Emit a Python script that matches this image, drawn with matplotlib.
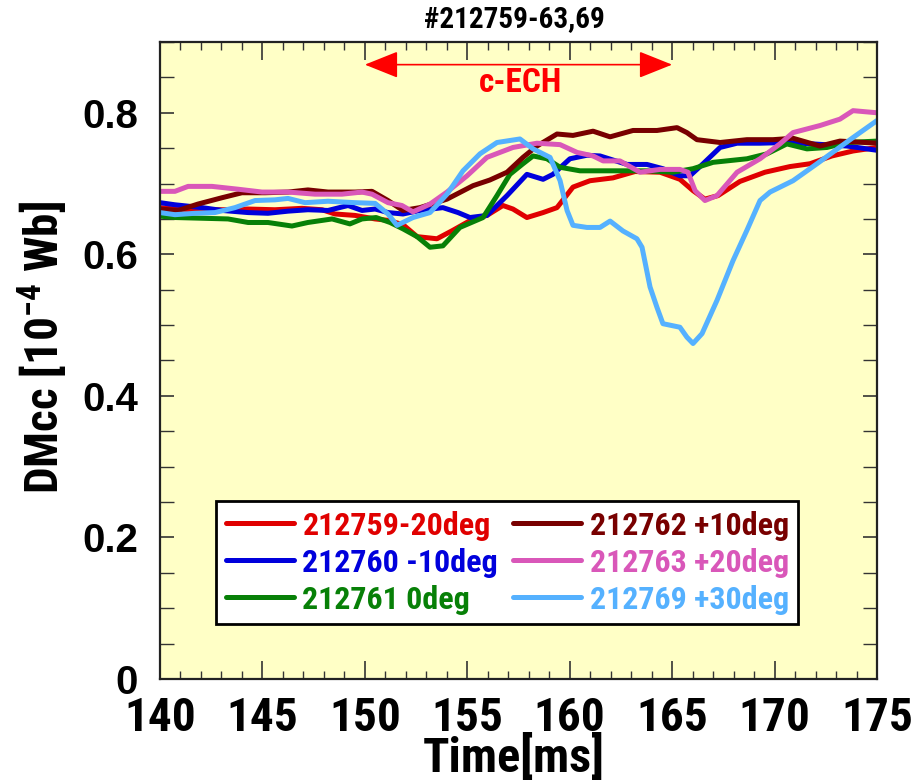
import matplotlib
matplotlib.use("Agg")
import matplotlib.pyplot as plt
from matplotlib import font_manager
from matplotlib.ticker import MultipleLocator

# ---- data -----------------------------------------------------------------
t_759 = [140.0, 140.73, 141.71, 143.03, 144.3, 145.61, 146.93, 147.91, 148.54, 149.52,
         150.5, 151.13, 151.86, 152.55, 153.52, 154.3, 155.28, 155.96, 156.74, 157.23,
         157.91, 158.7, 159.38, 160.16, 160.99, 162.11, 163.19, 164.41, 165.38, 166.02,
         166.6, 167.24, 168.31, 169.53, 170.75, 171.73, 172.8, 173.83, 175.0]
v_759 = [0.666, 0.664, 0.663, 0.663, 0.664, 0.663, 0.665, 0.663, 0.657, 0.655,
         0.650, 0.648, 0.642, 0.625, 0.622, 0.634, 0.650, 0.655, 0.669, 0.664,
         0.652, 0.659, 0.666, 0.695, 0.704, 0.708, 0.717, 0.716, 0.706, 0.690,
         0.678, 0.683, 0.703, 0.716, 0.724, 0.728, 0.739, 0.746, 0.751]

t_760 = [140.0, 140.73, 142.05, 143.03, 144.3, 145.27, 146.25, 147.22, 148.2, 149.18,
         149.86, 150.5, 151.13, 151.86, 152.69, 153.81, 154.55, 155.13, 155.96, 156.94,
         157.91, 158.7, 159.18, 160.01, 160.84, 161.48, 162.8, 163.77, 164.55, 165.38,
         165.87, 166.51, 167.34, 168.17, 169.29, 170.6, 171.88, 173.54, 175.0]
v_760 = [0.673, 0.670, 0.666, 0.662, 0.659, 0.658, 0.661, 0.663, 0.662, 0.669,
         0.662, 0.664, 0.659, 0.657, 0.662, 0.666, 0.659, 0.652, 0.655, 0.683,
         0.713, 0.706, 0.713, 0.735, 0.740, 0.739, 0.727, 0.727, 0.721, 0.711,
         0.711, 0.728, 0.751, 0.757, 0.757, 0.758, 0.756, 0.753, 0.747]

t_761 = [140.0, 140.73, 142.05, 143.32, 144.3, 145.27, 146.44, 147.22, 148.4, 149.27,
         149.86, 150.55, 151.23, 151.86, 152.55, 153.18, 153.81, 154.64, 155.77, 156.45,
         157.08, 157.72, 158.21, 158.89, 159.53, 160.5, 162.11, 163.77, 165.04, 166.02,
         167.0, 168.65, 169.63, 170.6, 171.58, 172.56, 173.54, 175.0]
v_761 = [0.654, 0.652, 0.651, 0.650, 0.645, 0.645, 0.640, 0.645, 0.650, 0.643,
         0.650, 0.652, 0.645, 0.636, 0.625, 0.610, 0.612, 0.638, 0.652, 0.683,
         0.713, 0.728, 0.739, 0.735, 0.723, 0.718, 0.718, 0.718, 0.716, 0.721,
         0.730, 0.735, 0.742, 0.756, 0.749, 0.751, 0.758, 0.760]

t_762 = [140.0, 140.88, 141.85, 143.03, 144.0, 145.13, 146.25, 147.22, 148.2, 149.52,
         150.35, 151.13, 151.86, 152.69, 154.01, 155.28, 156.1, 156.94, 157.72, 158.4,
         159.38, 160.16, 161.14, 161.97, 163.09, 164.26, 165.24, 165.72, 166.21, 167.34,
         168.65, 169.92, 170.9, 172.22, 173.19, 175.0]
v_762 = [0.664, 0.662, 0.671, 0.680, 0.687, 0.687, 0.688, 0.691, 0.688, 0.688,
         0.689, 0.676, 0.662, 0.666, 0.678, 0.697, 0.705, 0.716, 0.737, 0.753,
         0.770, 0.768, 0.774, 0.766, 0.775, 0.775, 0.779, 0.772, 0.762, 0.758,
         0.762, 0.762, 0.764, 0.753, 0.760, 0.757]

t_763 = [140.0, 140.73, 141.37, 142.54, 143.81, 144.98, 146.25, 147.57, 148.88, 149.86,
         150.35, 151.13, 151.81, 152.35, 153.18, 154.01, 154.99, 155.96, 157.23, 158.4,
         159.53, 160.36, 161.14, 161.63, 162.45, 163.43, 164.41, 165.38, 165.77, 166.12,
         166.6, 167.19, 168.17, 169.29, 170.26, 170.9, 172.22, 173.19, 173.83, 175.0]
v_763 = [0.689, 0.689, 0.696, 0.696, 0.692, 0.688, 0.688, 0.685, 0.685, 0.688,
         0.685, 0.673, 0.669, 0.660, 0.671, 0.688, 0.711, 0.737, 0.751, 0.757,
         0.755, 0.744, 0.739, 0.732, 0.732, 0.716, 0.720, 0.720, 0.716, 0.690,
         0.676, 0.683, 0.716, 0.735, 0.756, 0.772, 0.782, 0.791, 0.803, 0.800]

t_769 = [140.0, 140.73, 141.71, 142.68, 143.66, 144.64, 145.61, 146.25, 147.08, 148.2,
         149.52, 150.5, 151.13, 151.57, 152.35, 153.18, 154.01, 154.79, 155.62, 156.45,
         157.57, 158.21, 159.04, 159.53, 159.87, 160.16, 160.84, 161.48, 161.97, 162.6,
         163.28, 163.53, 163.92, 164.26, 164.55, 165.38, 165.72, 166.02, 166.46, 167.19,
         167.97, 168.65, 169.29, 169.78, 170.9, 172.07, 173.83, 175.0]
v_769 = [0.659, 0.656, 0.658, 0.659, 0.666, 0.676, 0.677, 0.679, 0.673, 0.675,
         0.673, 0.672, 0.657, 0.641, 0.652, 0.659, 0.685, 0.718, 0.742, 0.758,
         0.763, 0.749, 0.737, 0.704, 0.662, 0.641, 0.638, 0.638, 0.647, 0.633,
         0.622, 0.610, 0.554, 0.525, 0.502, 0.497, 0.483, 0.474, 0.488, 0.535,
         0.591, 0.634, 0.676, 0.688, 0.704, 0.728, 0.765, 0.789]

series = [
    ("212759-20deg", t_759, v_759, "#e00000"),
    ("212760 -10deg", t_760, v_760, "#0000dc"),
    ("212761 0deg", t_761, v_761, "#078007"),
    ("212762 +10deg", t_762, v_762, "#780000"),
    ("212763 +20deg", t_763, v_763, "#d957b9"),
    ("212769 +30deg", t_769, v_769, "#55b1ff"),
]

title_text = "#212759-63,69"
ech_start, ech_end = 150, 165
x_ticks = [140, 145, 150, 155, 160, 165, 170, 175]
y_ticks = [0, 0.2, 0.4, 0.6, 0.8]
y_tick_labels = ["0", "0.2", "0.4", "0.6", "0.8"]

# ---- fonts ----------------------------------------------------------------
installed = {f.name for f in font_manager.fontManager.ttflist}
narrow = next((n for n in ["Liberation Sans Narrow", "Roboto Condensed",
                           "Open Sans Condensed", "Arial Narrow"] if n in installed),
              None)
WIDE = ["Liberation Sans", "DejaVu Sans"]
NARROW = [narrow, "DejaVu Sans"] if narrow else WIDE
label_family = NARROW[0]

plt.rcParams["mathtext.fontset"] = "custom"
for key in ("rm", "it", "bf"):
    plt.rcParams["mathtext." + key] = label_family + ":bold"

# ---- figure ---------------------------------------------------------------
fig = plt.figure(figsize=(9.16, 7.8), dpi=100)
ax = fig.add_axes([160 / 916, 101 / 780, 717 / 916, 637 / 780])
ax.set_facecolor("#ffffc6")

for label, t, v, c in series:
    ax.plot(t, v, color=c, lw=3.6, solid_capstyle="round", label=label)

ax.set_xlim(140, 175)
ax.set_ylim(0, 0.9)

ax.set_xticks(x_ticks)
ax.set_xticklabels([str(x) for x in x_ticks], family=NARROW, weight="bold", fontsize=34)
ax.xaxis.set_minor_locator(MultipleLocator(1))
ax.set_yticks(y_ticks)
ax.set_yticklabels(y_tick_labels, family=WIDE, weight="bold", fontsize=29)
ax.yaxis.set_minor_locator(MultipleLocator(0.05))

ax.tick_params(which="both", direction="in", top=True, right=True, color="#333333")
ax.tick_params(axis="x", which="major", length=13, width=1.2, pad=12)
ax.tick_params(axis="x", which="minor", length=6, width=1.0)
ax.tick_params(axis="y", which="major", length=10, width=1.2, pad=16)
ax.tick_params(axis="y", which="minor", length=10, width=1.0)
for s in ax.spines.values():
    s.set_linewidth(1.6)
    s.set_color("#222222")

ax.set_xlabel("Time[ms]", family=NARROW, weight="bold", fontsize=35)
ax.xaxis.set_label_coords(0.494, -0.086)
ax.set_ylabel(r"DMcc [10$^{-4}$ Wb]", family=NARROW, weight="bold", fontsize=34)
ax.yaxis.set_label_coords(-0.125, 0.521)

fig.text(0.562, 0.9756, title_text, family=NARROW, weight="bold", fontsize=21,
         ha="center", va="center")

# c-ECH interval
ax.annotate("", xy=(ech_start, 0.868), xytext=(ech_end, 0.868),
            arrowprops=dict(arrowstyle="<|-|>,head_length=0.7,head_width=0.28",
                            color="#ff0000", lw=1.2, mutation_scale=30,
                            shrinkA=0, shrinkB=0))
ax.text((ech_start + ech_end) / 2 + 0.1, 0.842, "c-ECH", color="#ff0000",
        family=NARROW, weight="bold", fontsize=24, ha="center", va="center")

# legend, filled column by column
leg = ax.legend(loc="upper left", bbox_to_anchor=(0.078, 0.2794),
                ncol=2, frameon=True, fancybox=False,
                edgecolor="black", facecolor="white", framealpha=1,
                prop={"family": NARROW, "weight": "bold", "size": 23},
                labelcolor="linecolor", handlelength=2.13, handletextpad=0.28,
                labelspacing=0.22, borderpad=0.3, borderaxespad=0,
                columnspacing=0.45)
leg.get_frame().set_linewidth(2.0)
for h in leg.get_lines():
    h.set_linewidth(3.6)

fig.savefig("out.png", dpi=100)
